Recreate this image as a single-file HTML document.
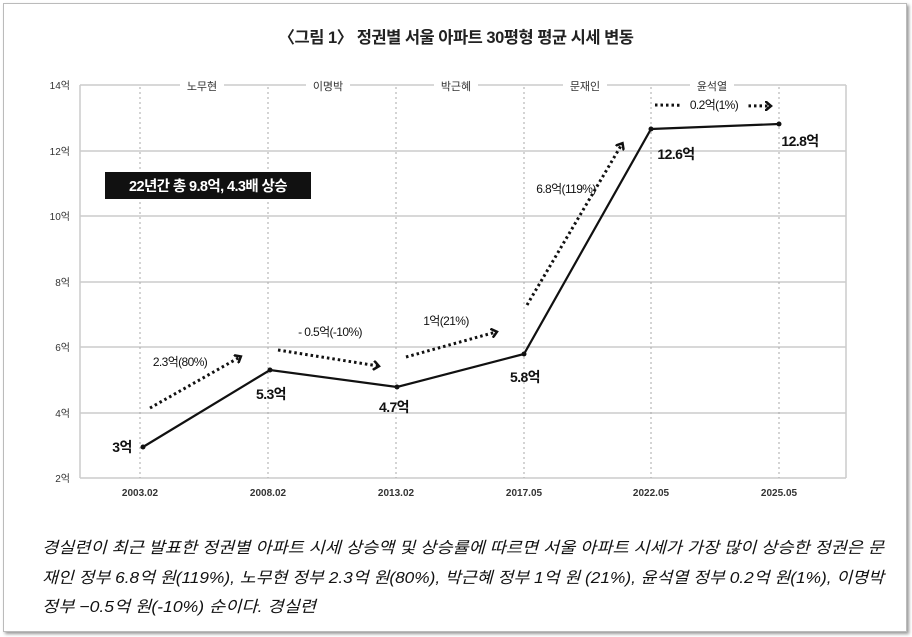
<!DOCTYPE html>
<html><head><meta charset="utf-8"><style>
body{margin:0;background:#fff;}
.card{position:absolute;left:3px;top:3px;width:902px;height:627px;border:1px solid #bbb;box-shadow:2px 2px 3px #999;background:#fff;}
svg{position:absolute;left:0;top:0;}
text{font-family:"Liberation Sans","Noto Sans CJK KR",sans-serif;}
</style></head><body>
<div class="card"></div>
<svg width="912" height="637" viewBox="0 0 912 637">
<defs><marker id="ah" markerWidth="8" markerHeight="10" refX="5" refY="5" orient="auto" markerUnits="userSpaceOnUse"><path d="M0,0 L6,5 L0,10" fill="none" stroke="#111" stroke-width="2.5"/></marker></defs>
<text x="456" y="43" text-anchor="middle" font-size="16.5" font-weight="bold" fill="#222" letter-spacing="-0.5">〈그림 1〉 정권별 서울 아파트 30평형 평균 시세 변동</text>
<g stroke="#ccc" stroke-width="1.5">
<line x1="80" y1="85" x2="846" y2="85"/><line x1="80" y1="151" x2="846" y2="151"/><line x1="80" y1="216" x2="846" y2="216"/><line x1="80" y1="282" x2="846" y2="282"/><line x1="80" y1="347" x2="846" y2="347"/><line x1="80" y1="413" x2="846" y2="413"/><line x1="80" y1="478" x2="846" y2="478"/><line x1="846" y1="85" x2="846" y2="478"/><line x1="80" y1="85" x2="80" y2="478"/>
</g>
<g stroke="#aaa" stroke-width="1" stroke-dasharray="2,3">
<line x1="140" y1="87" x2="140" y2="478"/><line x1="268" y1="87" x2="268" y2="478"/><line x1="396" y1="87" x2="396" y2="478"/><line x1="524" y1="87" x2="524" y2="478"/><line x1="651" y1="87" x2="651" y2="478"/><line x1="779" y1="87" x2="779" y2="478"/>
</g>
<g font-size="10" fill="#333" text-anchor="end">
<text x="70" y="89">14억</text><text x="70" y="155">12억</text><text x="70" y="220">10억</text><text x="70" y="286">8억</text><text x="70" y="351">6억</text><text x="70" y="417">4억</text><text x="70" y="482">2억</text>
</g>
<g font-size="10" fill="#333" text-anchor="middle" font-weight="bold">
<text x="140" y="496">2003.02</text><text x="268" y="496">2008.02</text><text x="396" y="496">2013.02</text><text x="524" y="496">2017.05</text><text x="651" y="496">2022.05</text><text x="779" y="496">2025.05</text>
</g>
<g font-size="11" fill="#333" text-anchor="middle">
<rect x="180" y="80" width="44" height="12" fill="#fff"/><text x="202" y="90">노무현</text>
<rect x="306" y="80" width="44" height="12" fill="#fff"/><text x="328" y="90">이명박</text>
<rect x="434" y="80" width="44" height="12" fill="#fff"/><text x="456" y="90">박근혜</text>
<rect x="563" y="80" width="44" height="12" fill="#fff"/><text x="585" y="90">문재인</text>
<rect x="690" y="80" width="44" height="12" fill="#fff"/><text x="712" y="90">윤석열</text>
</g>
<polyline points="143,447 270,370 397,387 524,354 651,129 779,124" fill="none" stroke="#111" stroke-width="2.2"/>
<g fill="#111"><circle cx="143" cy="447" r="2.5"/><circle cx="270" cy="370" r="2.5"/><circle cx="397" cy="387" r="2.5"/><circle cx="524" cy="354" r="2.5"/><circle cx="651" cy="129" r="2.5"/><circle cx="779" cy="124" r="2.5"/></g>
<g stroke="#111" stroke-width="3" stroke-dasharray="2.5,3" fill="none" marker-end="url(#ah)">
<line x1="150" y1="408" x2="240" y2="357"/>
<line x1="278" y1="350" x2="378" y2="366"/>
<line x1="406" y1="357" x2="496" y2="332"/>
<line x1="527" y1="305" x2="622" y2="144"/>
<line x1="655" y1="105" x2="770" y2="106"/>
</g>
<g font-size="14" font-weight="bold" fill="#111" text-anchor="middle" letter-spacing="-0.6">
<text x="122" y="452">3억</text><text x="271" y="399">5.3억</text><text x="394" y="412">4.7억</text><text x="525" y="382">5.8억</text><text x="676" y="159">12.6억</text><text x="800" y="146">12.8억</text>
</g>
<g font-size="12" fill="#111" text-anchor="middle" letter-spacing="-0.6">
<text x="180" y="366">2.3억(80%)</text><text x="330" y="336">- 0.5억(-10%)</text><text x="446" y="325">1억(21%)</text><text x="566" y="193">6.8억(119%)</text><rect x="681" y="96" width="66" height="14" fill="#fff"/><text x="714" y="109">0.2억(1%)</text>
</g>
<rect x="105" y="172" width="206" height="27" fill="#111"/>
<text x="208" y="191" font-size="14.5" font-weight="bold" fill="#fff" text-anchor="middle" letter-spacing="-0.6">22년간 총 9.8억, 4.3배 상승</text>
<g font-size="16" font-style="italic" fill="#111">
<text x="42" y="553" textLength="842" lengthAdjust="spacingAndGlyphs">경실련이 최근 발표한 정권별 아파트 시세 상승액 및 상승률에 따르면 서울 아파트 시세가 가장 많이 상승한 정권은 문</text>
<text x="42" y="583" textLength="842" lengthAdjust="spacingAndGlyphs">재인 정부 6.8억 원(119%), 노무현 정부 2.3억 원(80%), 박근혜 정부 1억 원 (21%), 윤석열 정부 0.2억 원(1%), 이명박</text>
<text x="42" y="612" textLength="274" lengthAdjust="spacingAndGlyphs">정부 −0.5억 원(-10%) 순이다. 경실련</text>
</g>
</svg>
</body></html>
